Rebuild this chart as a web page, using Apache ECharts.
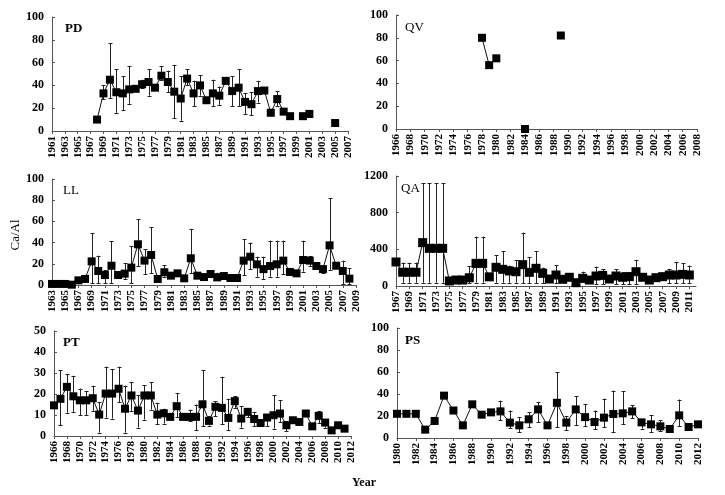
<!DOCTYPE html>
<html><head><meta charset="utf-8">
<script src="https://cdn.jsdelivr.net/npm/echarts@6/dist/echarts.min.js"></script>
<style>html,body{margin:0;padding:0;background:#fff}#c{width:725px;height:495px}</style>
</head><body><div id="c"></div>
<script>
// ---- PD ----
const pdYears = [1968,1969,1970,1971,1972,1973,1974,1975,1976,1977,1978,1979,1980,1981,1982,1983,1984,1985,1986,1987,1988,1989,1990,1991,1992,1993,1994,1995,1996,1997,1998,2000,2001,2005];
const pdValues = [10,33,45,34,33,36.5,37,41,43,38,48.5,43,34.5,28.5,46,33,40,27,33,31,44,35,38,25.5,23.5,35,35.5,16,28,17,13,13,15,7];
const pdErrors = [[1969,28,40],[1970,29,77],[1971,16,54],[1972,18,48],[1973,24,57],[1975,38,45],[1976,31,54],[1978,45,57],[1979,34,53],[1980,11,58],[1981,9,48],[1982,40,54],[1983,22,44],[1984,31,49],[1986,22,45],[1987,23,39],[1989,22,48],[1990,22,54],[1991,15,33],[1992,14,34],[1993,25,44],[1996,22,35],[2001,12,18]];
// ---- QV ----
const qvYears = [1978,1979,1980,1984,1989];
const qvValues = [80,56,62,0,82];
const qvErrors = [];
// ---- LL ----
const llYears = [1963,1964,1965,1966,1967,1968,1969,1970,1971,1972,1973,1974,1975,1976,1977,1978,1979,1980,1981,1982,1983,1984,1985,1986,1987,1988,1989,1990,1991,1992,1993,1994,1995,1996,1997,1998,1999,2000,2001,2002,2003,2004,2005,2006,2007,2008];
const llValues = [1,1,1,0.3,4.4,5.7,22.3,13.2,9.4,18.2,9.4,10.7,16.4,38.4,23,28.3,5.7,12,8.8,11,6.3,25.2,8.8,7.5,10.4,7.2,8.5,6.6,6.6,23,26.7,19.5,15,17.9,19.5,23,12.3,11,23.6,23,17.9,15,37.4,18.2,13.2,6];
const llErrors = [[1968,4,9],[1969,1.5,49],[1970,1.5,27.7],[1971,1.5,14],[1972,2,41.5],[1974,5.3,20.4],[1975,1.5,36.8],[1976,17.9,62],[1977,10.4,33.6],[1978,11,54.4],[1980,7.9,18.9],[1984,11,53],[1988,5,11.6],[1992,9.4,43],[1993,15,40],[1994,7.9,26.7],[1995,5.7,26.7],[1996,7.9,41.8],[1997,7.9,41.8],[1998,10.4,41.8],[2001,12.6,41.8],[2002,17.9,27.4],[2004,11,17.3],[2005,14.2,81.8],[2007,1,23],[2008,1,15.7]];
// ---- QA ----
const qaYears = [1967,1968,1969,1970,1971,1972,1973,1974,1975,1976,1977,1978,1979,1980,1981,1982,1983,1984,1985,1986,1987,1988,1989,1990,1991,1992,1993,1994,1995,1996,1997,1998,1999,2000,2001,2002,2003,2004,2005,2006,2007,2008,2009,2010,2011];
const qaValues = [262,150,150,150,473,411,411,411,55,65,65,90,247,247,100,204,182,164,156,233,149,193,138,76,120,73,95,36,84,65,109,116,76,109,95,102,156,95,65,91,102,120,120,127,120];
const qaErrors = [[1968,36,255],[1969,36,255],[1970,36,255],[1971,36,1120],[1972,36,1120],[1973,36,1120],[1974,36,1120],[1977,40,110],[1978,30,218],[1979,36,538],[1980,36,538],[1982,36,335],[1983,36,382],[1984,36,222],[1985,36,280],[1986,30,582],[1987,30,313],[1988,30,382],[1989,30,200],[1991,30,229],[1995,40,156],[1997,20,211],[1998,20,182],[2000,20,182],[2001,20,150],[2002,20,150],[2003,20,284],[2008,30,182],[2009,30,258],[2010,30,247],[2011,30,222]];
// ---- PT ----
const ptYears = [1966,1967,1968,1969,1970,1971,1972,1973,1974,1975,1976,1977,1978,1979,1980,1981,1982,1983,1984,1985,1986,1987,1988,1989,1990,1991,1992,1993,1994,1995,1996,1997,1998,1999,2000,2001,2002,2003,2004,2005,2006,2007,2008,2009,2010,2011];
const ptValues = [14.6,17.7,23.4,18.9,17,17,18,10.2,20.2,20.2,22.5,13,19.3,12.1,19.3,19.3,10.2,10.8,9.1,14.2,9.1,9.1,9.1,15.1,7.2,13.9,13.4,8.6,16.6,8.3,11.5,8.1,6.2,8.8,9.9,10.7,5.1,7.5,6.7,10.7,4.6,9.6,6.4,2.7,5.1,3.5];
const ptErrors = [[1967,5.1,31.4],[1968,11,29.3],[1969,11.5,28.7],[1970,9.9,22.6],[1971,9.9,21.5],[1972,12,23.9],[1973,1.6,16],[1974,8.8,33],[1975,8.3,31.7],[1976,16,33],[1977,1.6,24],[1978,12,25.5],[1979,4,19.4],[1980,7.8,24.2],[1981,12.6,25.5],[1982,5.6,15.8],[1983,5.9,13],[1985,9,20.5],[1987,7,12.6],[1988,2.7,15],[1989,4.6,31.4],[1990,5,9.5],[1991,9.4,16.6],[1992,5.6,28.2],[1993,2.7,17.8],[1994,13.4,19],[1995,4,14.2],[1996,9,13],[1997,4.6,11.5],[1999,4.6,9.9],[2000,3.5,19.4],[2001,6.7,17],[2002,2.4,7],[2007,6,12],[2008,4,8]];
// ---- PS ----
const psYears = [1980,1981,1982,1983,1984,1985,1986,1987,1988,1989,1990,1991,1992,1993,1994,1995,1996,1997,1998,1999,2000,2001,2002,2003,2004,2005,2006,2007,2008,2009,2010,2011,2012];
const psValues = [22,22,22,7.6,15.5,38.5,25,11.5,30.6,21.2,23.3,24.2,14,11.5,17,26,11.5,32,14,26,19,14.5,18.5,21.8,22.4,24.2,14.2,12.4,10.6,8.2,20.6,10,12.4];
const psErrors = [[1991,16,34],[1992,9,25],[1993,5.5,19],[1994,10,23.6],[1995,14.5,33],[1997,10,60],[1998,7,20],[1999,11.5,38],[2000,10.6,30.6],[2001,8,25],[2002,10,35.8],[2003,5.5,43],[2004,12.4,42.7],[2005,18,30],[2006,8.5,17],[2007,5.5,21],[2008,6,16],[2010,10.6,35]];

function yearRange(a, b){ const r=[]; for(let y=a;y<=b;y++) r.push(String(y)); return r; }

const panels = [
  {label:'PD', bold:true, cats:yearRange(1961,2007), years:pdYears, vals:pdValues, errs:pdErrors, max:100, interval:20, grid:{left:52, top:17, width:296, height:114}, lx:65, ly:29},
  {label:'QV', bold:false, cats:yearRange(1966,2008), years:qvYears, vals:qvValues, errs:qvErrors, max:100, interval:20, grid:{left:396, top:15, width:301, height:114}, lx:405, ly:28},
  {label:'LL', bold:false, cats:yearRange(1963,2009), years:llYears, vals:llValues, errs:llErrors, max:100, interval:20, grid:{left:52, top:179, width:304, height:106}, lx:63, ly:191},
  {label:'QA', bold:false, cats:yearRange(1967,2012), years:qaYears, vals:qaValues, errs:qaErrors, max:1200, interval:400, grid:{left:396, top:176, width:300, height:110}, lx:401, ly:189, sym:9},
  {label:'PT', bold:true, cats:yearRange(1966,2012), years:ptYears, vals:ptValues, errs:ptErrors, max:50, interval:10, grid:{left:54, top:331, width:297, height:105}, lx:63, ly:343},
  {label:'PS', bold:true, cats:yearRange(1980,2012), years:psYears, vals:psValues, errs:psErrors, max:100, interval:20, grid:{left:397, top:328, width:301, height:110}, lx:405, ly:341}
];

const serif = "'Liberation Serif','Times New Roman',serif";
const everyOther = (idx) => idx % 2 === 0;

function renderErr(params, api){
  const x = api.value(0);
  const lo = api.coord([x, api.value(1)]);
  const hi = api.coord([x, api.value(2)]);
  const hw = 2;
  const style = {stroke:'#222', lineWidth:1};
  const cx = Math.round(lo[0]) + 0.5;
  return {type:'group', children:[
    {type:'line', shape:{x1:cx, y1:lo[1], x2:cx, y2:hi[1]}, style:style},
    {type:'line', shape:{x1:cx-hw, y1:Math.round(hi[1])+0.5, x2:cx+hw, y2:Math.round(hi[1])+0.5}, style:style},
    {type:'line', shape:{x1:cx-hw, y1:Math.round(lo[1])+0.5, x2:cx+hw, y2:Math.round(lo[1])+0.5}, style:style}
  ]};
}

const grids=[], xAxes=[], yAxes=[], series=[], graphics=[];
panels.forEach((p, i) => {
  grids.push(Object.assign({containLabel:false}, p.grid));
  xAxes.push({
    type:'category', gridIndex:i, data:p.cats, boundaryGap:false,
    axisLine:{lineStyle:{color:'#555', width:1}},
    axisTick:{show:true, interval:everyOther, length:3, lineStyle:{color:'#555'}},
    axisLabel:{interval:everyOther, rotate:90, fontFamily:serif, fontWeight:'bold', fontSize:11, color:'#000', margin:5}
  });
  yAxes.push({
    type:'value', gridIndex:i, min:0, max:p.max, interval:p.interval,
    axisLine:{show:true, lineStyle:{color:'#555', width:1}},
    axisTick:{show:true, inside:true, length:3, lineStyle:{color:'#555'}},
    splitLine:{show:false},
    axisLabel:{fontFamily:serif, fontWeight:'bold', fontSize:12, color:'#000', margin:8, formatter:(v)=>String(v)}
  });
  const m = new Map(p.years.map((y,k)=>[String(y), p.vals[k]]));
  const lineData = p.cats.map(c => m.has(c) ? m.get(c) : null);
  series.push({
    type:'custom', xAxisIndex:i, yAxisIndex:i, renderItem:renderErr, z:1,
    encode:{x:0, y:[1,2]},
    data:p.errs.map(e => [String(e[0]), e[1], e[2]])
  });
  series.push({
    type:'line', xAxisIndex:i, yAxisIndex:i, data:lineData, z:3,
    symbol:'rect', symbolSize:p.sym || 8, showAllSymbol:true, connectNulls:false,
    lineStyle:{color:'#111', width:1}, itemStyle:{color:'#000'},
    animation:false
  });
  graphics.push({type:'text', left:p.lx, top:p.ly-7, style:{text:p.label, font:(p.bold?'bold ':'')+'13px '+serif, fill:'#000'}});
});
graphics.push({type:'text', rotation:Math.PI/2, x:16, y:235,
  style:{text:'Ca/Al', font:'13px '+serif, fill:'#000', textAlign:'center', textVerticalAlign:'middle'}});
graphics.push({type:'text', left:352, top:477, style:{text:'Year', font:'bold 12px '+serif, fill:'#000'}});

const chart = echarts.init(document.getElementById('c'), null, {renderer:'canvas'});
chart.setOption({
  animation:false,
  grid:grids, xAxis:xAxes, yAxis:yAxes, series:series, graphic:graphics
});
</script>
</body></html>
